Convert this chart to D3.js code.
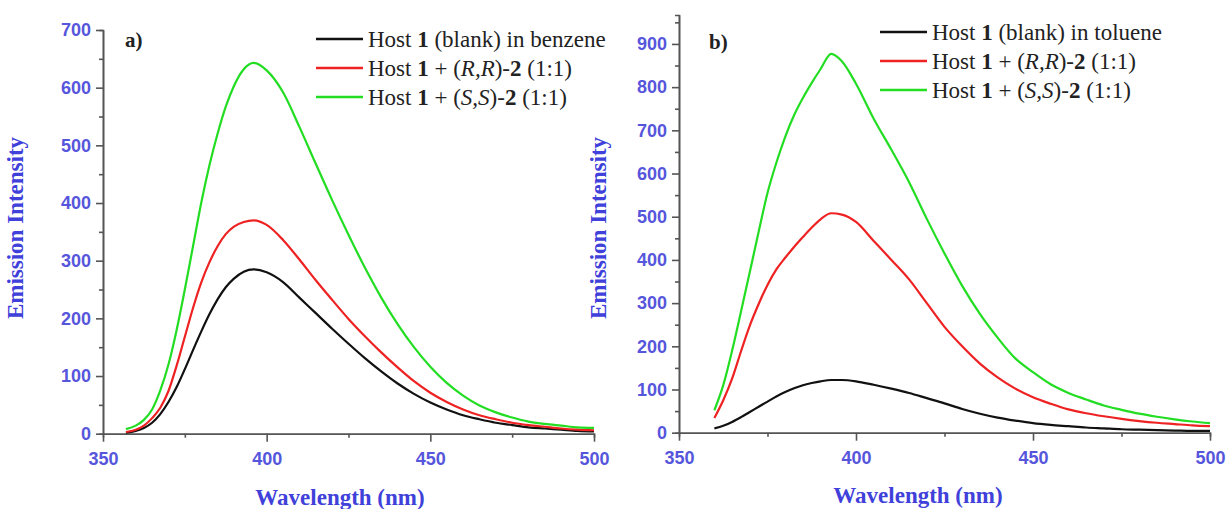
<!DOCTYPE html>
<html>
<head>
<meta charset="utf-8">
<script src="https://cdn.jsdelivr.net/npm/d3@7"></script>
<style>
  body { margin: 0; background: #fff; }
  svg { display: block; }
</style>
</head>
<body>
<svg id="chart" width="1232" height="509"></svg>
<script>
// panel a) benzene
const nmA = [357, 360, 362.5, 365, 367.5, 370, 372.5, 375, 377.5, 380, 382.5, 385, 387.5, 390, 393, 396, 400, 405, 410, 415, 420, 425, 430, 435, 440, 445, 450, 455, 460, 465, 470, 475, 480, 485, 490, 495, 500]
const blankA = [2, 5, 10, 19, 34, 55, 81, 112, 145, 177, 207, 233, 254, 269, 281, 285, 280, 263, 236, 209, 182, 156, 131, 108, 87, 69, 54, 42, 32, 25, 19, 15, 11, 9, 7, 5, 4]
const rrA = [3, 7, 14, 27, 45, 74, 118, 168, 218, 262, 297, 325, 346, 359, 367, 370, 362, 336, 302, 266, 232, 199, 169, 141, 115, 91, 71, 55, 42, 32, 25, 19, 15, 12, 9, 7, 6]
const ssA = [8, 14, 24, 42, 75, 120, 180, 250, 325, 400, 465, 520, 567, 603, 632, 643, 630, 592, 532, 468, 405, 345, 288, 236, 190, 150, 116, 88, 66, 49, 37, 28, 21, 17, 14, 11, 10]

// panel b) toluene
const nmB = [360, 362.5, 365, 367.5, 370, 372.5, 375, 377.5, 380, 382.5, 385, 387.5, 390, 393, 396, 400, 405, 410, 415, 420, 425, 430, 435, 440, 445, 450, 455, 460, 465, 470, 475, 480, 485, 490, 495, 500]
const blankB = [10, 16, 25, 36, 48, 60, 72, 84, 94, 103, 110, 115, 119, 122, 122, 119, 111, 102, 92, 80, 68, 55, 44, 35, 28, 22, 18, 15, 12, 10, 8, 7, 6, 5, 4, 4]
const rrB = [34, 75, 125, 188, 248, 298, 342, 378, 405, 430, 453, 475, 494, 508, 505, 488, 444, 400, 355, 300, 245, 200, 160, 128, 102, 82, 67, 54, 45, 38, 32, 27, 23, 20, 17, 15]
const ssB = [52, 110, 190, 280, 372, 465, 555, 625, 685, 735, 775, 810, 842, 877, 860, 808, 727, 655, 580, 495, 415, 340, 275, 220, 172, 140, 112, 92, 77, 63, 53, 44, 37, 31, 26, 22]

const xTicks = [350, 400, 450, 500]
const xMinor = [375, 425, 475]
const yTicksA = [0, 100, 200, 300, 400, 500, 600, 700]
const yTicksB = [0, 100, 200, 300, 400, 500, 600, 700, 800, 900]

const seriesColors = ["#111111", "#ee2222", "#22dd22"]

const panels = [
  { label: "a)", solvent: "benzene", nm: nmA, series: [blankA, rrA, ssA], yMax: 700, yTicks: yTicksA,
    x0: 103, x1: 594, y0: 433.7, y1: 30, labelX: 125, labelY: 47,
    legX: 316, legY: 39, titleX: 23, titleY: 228, xTitleX: 340, xTitleY: 505 },
  { label: "b)", solvent: "toluene", nm: nmB, series: [blankB, rrB, ssB], yMax: 967, yTicks: yTicksB,
    x0: 679, x1: 1210, y0: 432.7, y1: 15, labelX: 709, labelY: 49,
    legX: 880, legY: 32, titleX: 606, titleY: 228, xTitleX: 918, xTitleY: 503 }
]

const svg = d3.select("#chart")
const axisColor = "#555"
const tickColor = "#5656dc"
const titleColor = "#4040da"

panels.forEach(p => {
  const x = d3.scaleLinear().domain([350, 500]).range([p.x0, p.x1])
  const y = d3.scaleLinear().domain([0, p.yMax]).range([p.y0, p.y1])
  const yMinor = d3.range(50, p.yMax, 100)

  const g = svg.append("g")

  // minor ticks first
  g.append("g")
      .attr("transform", `translate(0,${p.y0})`)
      .call(d3.axisBottom(x).tickValues(xMinor).tickSize(4).tickFormat(""))
  g.append("g")
      .attr("transform", `translate(${p.x0},0)`)
      .call(d3.axisLeft(y).tickValues(yMinor).tickSize(4).tickFormat(""))

  g.append("g")
      .attr("transform", `translate(0,${p.y0})`)
      .call(d3.axisBottom(x).tickValues(xTicks).tickSize(8).tickSizeOuter(0).tickPadding(11))
  g.append("g")
      .attr("transform", `translate(${p.x0},0)`)
      .call(d3.axisLeft(y).tickValues(p.yTicks).tickSize(7).tickSizeOuter(0).tickPadding(5))

  g.selectAll(".domain, .tick line").attr("stroke", axisColor).attr("stroke-width", 1.6)
  g.selectAll(".tick text")
      .attr("fill", tickColor)
      .attr("font-family", "Liberation Sans, Arial, sans-serif")
      .attr("font-weight", "bold")
      .attr("font-size", 18)

  const line = d3.line()
      .x((d, i) => x(p.nm[i]))
      .y(d => y(d))
      .curve(d3.curveMonotoneX)

  g.append("g")
      .attr("fill", "none")
      .attr("stroke-width", 2.2)
      .attr("stroke-linejoin", "round")
    .selectAll("path")
    .data(p.series)
    .join("path")
      .attr("stroke", (d, i) => seriesColors[i])
      .attr("d", line)

  // panel letter
  g.append("text")
      .attr("x", p.labelX).attr("y", p.labelY)
      .attr("font-family", "Liberation Serif, Times New Roman, serif")
      .attr("font-weight", "bold")
      .attr("font-size", 21)
      .attr("fill", "#222")
      .text(p.label)

  // axis titles
  g.append("text")
      .attr("transform", `translate(${p.titleX},${p.titleY}) rotate(-90)`)
      .attr("text-anchor", "middle")
      .attr("font-family", "Liberation Serif, Times New Roman, serif")
      .attr("font-weight", "bold")
      .attr("font-size", 23)
      .attr("fill", titleColor)
      .text("Emission Intensity")
  g.append("text")
      .attr("x", p.xTitleX).attr("y", p.xTitleY)
      .attr("text-anchor", "middle")
      .attr("font-family", "Liberation Serif, Times New Roman, serif")
      .attr("font-weight", "bold")
      .attr("font-size", 23)
      .attr("fill", titleColor)
      .text("Wavelength (nm)")

  // legend
  const rows = [
    [["Host ", ""], ["1", "b"], [" (blank) in " + p.solvent, ""]],
    [["Host ", ""], ["1", "b"], [" + (", ""], ["R,R", "i"], [")-", ""], ["2", "b"], [" (1:1)", ""]],
    [["Host ", ""], ["1", "b"], [" + (", ""], ["S,S", "i"], [")-", ""], ["2", "b"], [" (1:1)", ""]]
  ]
  const leg = g.append("g")
  rows.forEach((parts, i) => {
    const cy = p.legY + i * 29
    leg.append("line")
        .attr("x1", p.legX).attr("x2", p.legX + 47)
        .attr("y1", cy).attr("y2", cy)
        .attr("stroke", seriesColors[i])
        .attr("stroke-width", 2.6)
    const t = leg.append("text")
        .attr("x", p.legX + 52).attr("y", cy + 8)
        .attr("font-family", "Liberation Serif, Times New Roman, serif")
        .attr("font-size", 23)
        .attr("fill", "#222")
    parts.forEach(([s, f]) => {
      t.append("tspan")
          .attr("font-weight", f === "b" ? "bold" : "normal")
          .attr("font-style", f === "i" ? "italic" : "normal")
          .text(s)
    })
  })
})
</script>
</body>
</html>
